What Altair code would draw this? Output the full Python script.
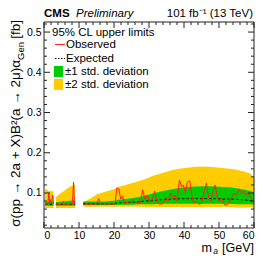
import altair as alt
import pandas as pd

# ---------------- data ----------------
# expected-limit bands, three mass segments
seg1_m = [0.3, 1.0, 1.5, 2.0, 2.7]
seg1_exp = [0.072, 0.072, 0.072, 0.072, 0.072]
seg1_glo = [0.068, 0.068, 0.068, 0.068, 0.068]
seg1_ghi = [0.078, 0.078, 0.077, 0.078, 0.078]
seg1_ylo = [0.063, 0.063, 0.063, 0.063, 0.063]
seg1_yhi = [0.110, 0.108, 0.104, 0.106, 0.103]

seg2_m = [3.4, 4.5, 5.5, 6.5, 7.5, 8.5, 8.9]
seg2_exp = [0.072, 0.072, 0.072, 0.072, 0.072, 0.072, 0.072]
seg2_glo = [0.068, 0.068, 0.068, 0.068, 0.068, 0.068, 0.068]
seg2_ghi = [0.077, 0.078, 0.079, 0.080, 0.081, 0.082, 0.082]
seg2_ylo = [0.063, 0.063, 0.063, 0.063, 0.063, 0.063, 0.063]
seg2_yhi = [0.090, 0.098, 0.104, 0.110, 0.116, 0.120, 0.122]

seg3_m = [11.2, 13, 15, 17, 19, 20.5, 21, 23, 25, 27, 29, 31, 33, 35, 37, 39,
          41, 43, 45, 47, 49, 51, 53, 55, 57, 59, 60]
seg3_exp = [0.073, 0.073, 0.073, 0.073, 0.073, 0.074, 0.075, 0.076, 0.077, 0.078,
            0.080, 0.081, 0.083, 0.084, 0.085, 0.086, 0.086, 0.086, 0.086, 0.086,
            0.086, 0.085, 0.085, 0.084, 0.083, 0.081, 0.080]
seg3_glo = [0.070, 0.070, 0.070, 0.070, 0.070, 0.070, 0.071, 0.071, 0.071, 0.072,
            0.072, 0.072, 0.073, 0.073, 0.073, 0.073, 0.073, 0.073, 0.073, 0.073,
            0.073, 0.073, 0.073, 0.072, 0.072, 0.072, 0.071]
seg3_ghi = [0.079, 0.079, 0.079, 0.079, 0.080, 0.081, 0.083, 0.085, 0.087, 0.090,
            0.094, 0.099, 0.103, 0.107, 0.110, 0.113, 0.115, 0.116, 0.117, 0.117,
            0.116, 0.115, 0.114, 0.112, 0.109, 0.105, 0.101]
seg3_ylo = [0.066, 0.066, 0.066, 0.066, 0.066, 0.066, 0.066, 0.066, 0.066, 0.066,
            0.065, 0.065, 0.065, 0.065, 0.065, 0.065, 0.065, 0.065, 0.065, 0.065,
            0.065, 0.065, 0.065, 0.064, 0.064, 0.064, 0.064]
seg3_yhi = [0.077, 0.085, 0.096, 0.102, 0.107, 0.111, 0.115, 0.119, 0.124, 0.129,
            0.135, 0.142, 0.148, 0.153, 0.158, 0.161, 0.163, 0.165, 0.166, 0.165,
            0.164, 0.162, 0.160, 0.158, 0.154, 0.148, 0.138]

# observed limit
obs1_m = [0.3, 0.8, 1.1, 1.4, 1.6, 1.9, 2.1, 2.5, 2.7]
obs1_v = [0.072, 0.072, 0.073, 0.100, 0.074, 0.084, 0.073, 0.095, 0.072]

obs2_m = [3.4, 4.5, 5.2, 5.5, 5.8, 7.0, 8.1, 8.45, 8.7, 8.9]
obs2_v = [0.072, 0.072, 0.073, 0.079, 0.072, 0.072, 0.073, 0.127, 0.075, 0.072]

obs3_m = [11.2, 15.0, 15.6, 16.2, 20.3, 20.8, 21.4, 21.9, 22.4, 23.0, 24.5, 25.5,
          26.5, 27.5, 28.2, 28.8, 29.5, 30.1, 30.8, 31.6, 32.3, 33.0, 34.0, 34.8,
          35.5, 36.2, 36.9, 37.5, 38.0, 38.7, 39.3, 39.8, 40.4, 41.0, 41.7, 42.2,
          42.8, 43.5, 44.3, 45.0, 45.7, 46.4, 47.0, 47.6, 48.2, 48.9, 49.5, 50.1,
          50.8, 51.5, 52.2, 53.0, 53.7, 54.3, 55.0, 55.7, 56.4, 57.0, 57.6, 58.3,
          59.0, 59.5, 60.0]
obs3_v = [0.072, 0.072, 0.086, 0.073, 0.072, 0.112, 0.110, 0.085, 0.092, 0.075,
          0.078, 0.080, 0.076, 0.074, 0.108, 0.085, 0.095, 0.078, 0.080, 0.105,
          0.080, 0.072, 0.074, 0.090, 0.080, 0.100, 0.085, 0.095, 0.080, 0.132,
          0.115, 0.120, 0.100, 0.128, 0.130, 0.095, 0.075, 0.080, 0.072, 0.075,
          0.100, 0.125, 0.090, 0.080, 0.100, 0.120, 0.090, 0.080, 0.085, 0.072,
          0.070, 0.078, 0.090, 0.100, 0.095, 0.110, 0.100, 0.105, 0.095, 0.100,
          0.090, 0.082, 0.080]

x_major = [0, 10, 20, 30, 40, 50, 60]
x_minor = [v for v in range(2, 60, 2) if v % 10 != 0]
y_major = [0.1, 0.2, 0.3, 0.4, 0.5]
y_minor = [round(0.02 * i, 2) for i in range(1, 27) if i % 5 != 0]

# ---------------- tables ----------------
def seg_df(sid, m, e, glo, ghi, ylo, yhi):
    return pd.DataFrame({"seg": sid, "m": m, "exp": e, "glo": glo, "ghi": ghi,
                         "ylo": ylo, "yhi": yhi})

band = pd.concat([
    seg_df(1, seg1_m, seg1_exp, seg1_glo, seg1_ghi, seg1_ylo, seg1_yhi),
    seg_df(2, seg2_m, seg2_exp, seg2_glo, seg2_ghi, seg2_ylo, seg2_yhi),
    seg_df(3, seg3_m, seg3_exp, seg3_glo, seg3_ghi, seg3_ylo, seg3_yhi),
], ignore_index=True)

obs = pd.concat([
    pd.DataFrame({"seg": 1, "m": obs1_m, "v": obs1_v}),
    pd.DataFrame({"seg": 2, "m": obs2_m, "v": obs2_v}),
    pd.DataFrame({"seg": 3, "m": obs3_m, "v": obs3_v}),
], ignore_index=True)

W, H = 210, 206
FONT = "Liberation Sans"
YELLOW = "#FFCC00"
GREEN = "#00CC00"
RED = "#FF2020"

xs = alt.Scale(domain=[0, 60], nice=False, zero=False)
ys = alt.Scale(domain=[0.013, 0.525], nice=False, zero=False)
xax = alt.Axis(values=x_major, ticks=False, domain=False, grid=False,
               labelFont=FONT, labelFontSize=10.5, labelColor="black",
               labelPadding=2, title=None, format="d")
yax = alt.Axis(values=y_major, ticks=False, domain=False, grid=False,
               labelFont=FONT, labelFontSize=10.5, labelColor="black",
               labelPadding=3, title=None, format=".1f")


def X(f):
    return alt.X(f, scale=xs, axis=xax, title=None)


def Y(f):
    return alt.Y(f, scale=ys, axis=yax, title=None)


base = alt.Chart(band)

yellow = base.mark_area(color=YELLOW, opacity=1).encode(
    x=X("m:Q"), y=Y("ylo:Q"), y2="yhi:Q", detail="seg:N")
green = base.mark_area(color=GREEN, opacity=1).encode(
    x=X("m:Q"), y=Y("glo:Q"), y2="ghi:Q", detail="seg:N")
expected = base.mark_line(color="black", strokeWidth=1, strokeDash=[2.5, 2]).encode(
    x=X("m:Q"), y=Y("exp:Q"), detail="seg:N")
observed = alt.Chart(obs).mark_line(color=RED, strokeWidth=1).encode(
    x=X("m:Q"), y=Y("v:Q"), detail="seg:N")

# frame
one = alt.Data(values=[{"a": 1}])
frame = alt.Chart(one).mark_rect(fill=None, stroke="#222222", strokeWidth=1).encode(
    x=alt.value(0), x2=alt.value(W), y=alt.value(0), y2=alt.value(H))


def xticks(vals, length):
    d = pd.DataFrame({"t": vals})
    bot = alt.Chart(d).mark_rule(color="#222222", strokeWidth=1).encode(
        x=X("t:Q"), y=alt.value(H), y2=alt.value(H - length))
    top = alt.Chart(d).mark_rule(color="#222222", strokeWidth=1).encode(
        x=X("t:Q"), y=alt.value(0), y2=alt.value(length))
    return [bot, top]


def yticks(vals, length):
    d = pd.DataFrame({"t": vals})
    left = alt.Chart(d).mark_rule(color="#222222", strokeWidth=1).encode(
        y=Y("t:Q"), x=alt.value(0), x2=alt.value(length))
    right = alt.Chart(d).mark_rule(color="#222222", strokeWidth=1).encode(
        y=Y("t:Q"), x=alt.value(W), x2=alt.value(W - length))
    return [left, right]


ticks = xticks(x_major, 6) + xticks(x_minor, 3) + yticks(y_major, 6) + yticks(y_minor, 3)


def txt(s, x, y, size=11.5, align="left", weight="normal", style="normal",
        angle=0, baseline="middle"):
    kw = dict(text=s, font=FONT, fontSize=size, align=align, baseline=baseline,
              fontWeight=weight, fontStyle=style, color="black")
    if angle:
        kw["angle"] = angle
    return alt.Chart(one).mark_text(**kw).encode(x=alt.value(x), y=alt.value(y))


texts = [
    # header
    txt("CMS", 0, -5.3, size=11.5, weight="bold", baseline="alphabetic"),
    txt("Preliminary", 32, -5.3, size=11.5, style="italic", baseline="alphabetic"),
    txt("101 fb\u207b\u00b9 (13 TeV)", W - 1, -5.3, size=11.5, align="right",
        baseline="alphabetic"),
    # legend
    txt("95% CL upper limits", 8, 10.5),
    txt("Observed", 22, 22.5),
    txt("Expected", 22, 36.5),
    txt("\u00b11 std. deviation", 21, 49.5),
    txt("\u00b12 std. deviation", 21, 62.5),
    # x title
    txt("[GeV]", W, 230, size=12.5, align="right", baseline="alphabetic"),
    txt("a", W - 36, 232, size=8.5, align="right", style="italic",
        baseline="alphabetic"),
    txt("m", W - 42, 230, size=12.5, align="right", baseline="alphabetic"),
    # y title (rotated)
    txt("[fb]", -28, -2, size=13.5, align="right", angle=270),
    txt("Gen", -23, 20, size=9.5, align="right", angle=270),
    txt("\u03c3(pp \u2192 2a + X)B\u00b2(a \u2192 2\u03bc)\u03b1", -28, 38, size=13.5,
        align="right", angle=270),
]

leg_obs = alt.Chart(one).mark_rule(color=RED, strokeWidth=1).encode(
    x=alt.value(11), x2=alt.value(21), y=alt.value(22.5))
leg_exp = alt.Chart(one).mark_rule(color="black", strokeWidth=1,
                                   strokeDash=[1.5, 1.5]).encode(
    x=alt.value(11), x2=alt.value(21), y=alt.value(36.5))
leg_g = alt.Chart(one).mark_rect(color=GREEN).encode(
    x=alt.value(10), x2=alt.value(19), y=alt.value(44), y2=alt.value(55))
leg_y = alt.Chart(one).mark_rect(color=YELLOW).encode(
    x=alt.value(10), x2=alt.value(19), y=alt.value(57), y2=alt.value(68))

chart = alt.layer(
    yellow, green, expected, observed, frame, *ticks, *texts,
    leg_obs, leg_exp, leg_g, leg_y,
).properties(
    width=W, height=H,
    autosize=alt.AutoSizeParams(type="none"),
    padding={"left": 36, "top": 14, "right": 1, "bottom": 27},
).configure_view(stroke=None)

chart.save("out.html", embed_options={"renderer": "svg", "actions": False})
